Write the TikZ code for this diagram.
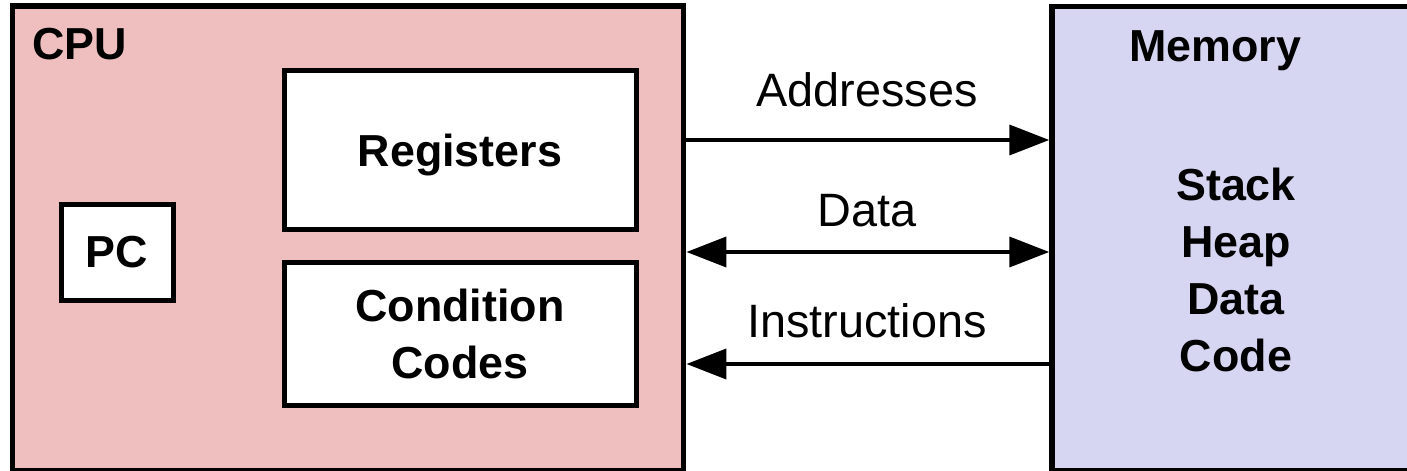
\documentclass[tikz,border=0pt]{standalone}
\usepackage{fontspec}
\setmainfont{Liberation Sans}
\usetikzlibrary{arrows.meta,calc}

\definecolor{cpufill}{RGB}{239,191,191}
\definecolor{memfill}{RGB}{214,214,242}

\tikzset{
  unit/.style={draw=black, line width=5.5bp, rectangle, inner sep=0pt},
  part/.style={draw=black, fill=white, line width=5bp, rectangle, inner sep=0pt,
    font=\fontsize{45}{57}\selectfont\bfseries, align=center},
  title/.style={inner sep=0pt, font=\fontsize{45}{57}\selectfont\bfseries},
  lbl/.style={inner sep=0pt, font=\fontsize{47}{57}\selectfont},
  bus/.style={line width=4bp, arrows={-Triangle[length=40bp, width=30bp]}},
  bibus/.style={line width=4bp, arrows={Triangle[length=40bp, width=30bp]-Triangle[length=40bp, width=30bp]}}
}

\begin{document}
\begin{tikzpicture}[x=1bp, y=-1bp]
  % page frame
  \useasboundingbox (0,0) rectangle (1407,471);
  \fill[white] (0,0) rectangle (1407,471);
  \clip (0,0) rectangle (1407,471);

  % processor and memory blocks
  \node[unit, fill=cpufill, minimum width=671.2bp, minimum height=465bp] (cpu) at (348.1,238.5) {};
  \node[unit, fill=memfill, minimum width=360bp, minimum height=464.5bp] (mem) at (1232,238.75) {};

  \node[title, anchor=base west] (cputitle) at (32,60) {CPU};
  \node[title, anchor=base] (memtitle) at (1215,62) {Memory};

  % processor state
  \node[part, minimum width=352bp, minimum height=159bp, text depth=0pt] (reg) at (460,150.5) {Registers};
  \node[part, minimum width=352bp, minimum height=142bp] (cc) at (460,334) {Condition\\Codes};
  \node[part, minimum width=112bp, minimum height=95.5bp, text depth=0pt] (pc) at (117,252.25) {PC};

  % memory contents
  \node[title, align=center] (areas) at (1236,270) {Stack\\Heap\\Data\\Code};

  % bus levels
  \coordinate (yA) at (0,140);
  \coordinate (yD) at (0,252);
  \coordinate (yI) at (0,364);

  \draw[bus] (cpu.east |- yA) -- (mem.west |- yA);
  \draw[bibus] (cpu.east |- yD) -- (mem.west |- yD);
  \draw[bus] (mem.west |- yI) -- (cpu.east |- yI);

  \node[lbl, anchor=base] (addr) at (867,107) {Addresses};
  \node[lbl, anchor=base] (data) at (867,227) {Data};
  \node[lbl, anchor=base] (instr) at (867,338) {Instructions};
\end{tikzpicture}
\end{document}
